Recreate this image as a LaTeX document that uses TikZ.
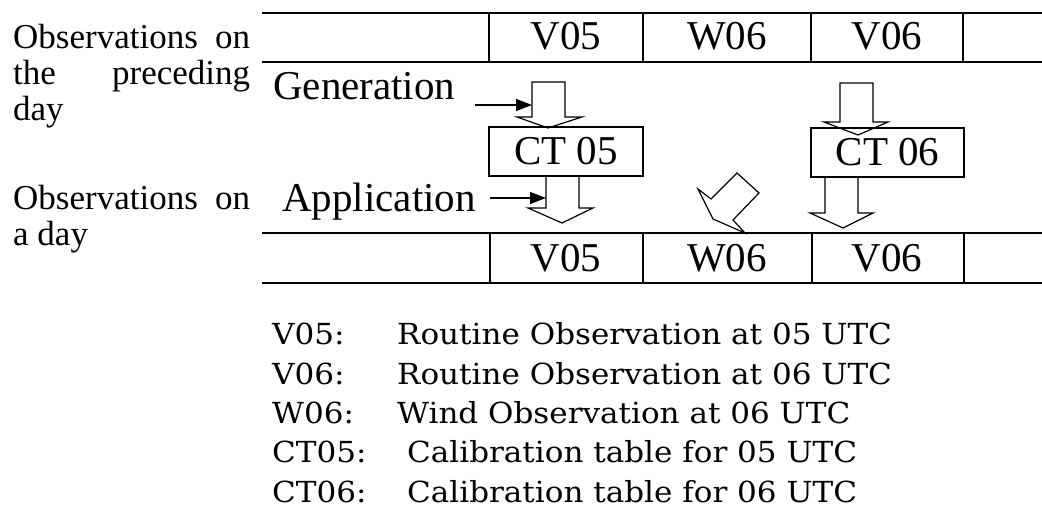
\documentclass[tikz,border=0pt]{standalone}
\usepackage{fontspec}
\setmainfont{Liberation Serif}
\newfontfamily\legendfont{DejaVu Serif}
\usetikzlibrary{arrows.meta}
\newcommand{\legwide}[1]{\scalebox{1.07}[1]{#1}}
\begin{document}
\begin{tikzpicture}[x=1pt,y=-1pt,line join=miter]
\tikzset{
 rowline/.style={line width=1.6pt},
 cellline/.style={line width=1.1pt},
 cell/.style={font=\fontsize{41}{41}\selectfont, inner sep=0pt, anchor=base},
 ctbox/.style={draw, line width=1.2pt, minimum height=49pt, inner sep=0pt, font=\fontsize{41}{41}\selectfont},
 blockarrow/.style={draw, line width=1.2pt},
 pointer/.style={line width=1.2pt, -{Triangle[length=16pt,width=12pt]}},
 sidelabel/.style={font=\fontsize{35}{36}\selectfont, anchor=base west, inner sep=0pt},
 steplabel/.style={font=\fontsize{41}{41}\selectfont, anchor=base west, inner sep=0pt},
 legendtext/.style={font=\legendfont\fontsize{29}{29}\selectfont, anchor=base west, inner sep=0pt},
}
\useasboundingbox (0,0) rectangle (1042,518);
% side labels
\node[sidelabel] (l1) at (13,49) {\makebox[237pt][s]{Observations on}};
\node[sidelabel] (l2) at (13,85) {\makebox[237pt][s]{the preceding}};
\node[sidelabel] (l3) at (13,121) {day};
\node[sidelabel] (l4) at (13,210) {\makebox[237pt][s]{Observations on}};
\node[sidelabel] (l5) at (13,246) {a day};
% top row
\draw[rowline] (262,13) -- (1042,13);
\draw[rowline] (262,62) -- (1042,62);
\foreach \x in {489,643,811,963} \draw[cellline] (\x,13) -- (\x,62);
\node[cell] (tv05) at (566,50) {V05};
\node[cell] (tw06) at (727,50) {W06};
\node[cell] (tv06) at (887,50) {V06};
% bottom row
\draw[rowline] (262,233) -- (1042,233);
\draw[rowline] (262,283) -- (1042,283);
\foreach \x in {490,643,812,964} \draw[cellline] (\x,233) -- (\x,283);
\node[cell] (bv05) at (566,272) {V05};
\node[cell] (bw06) at (727,272) {W06};
\node[cell] (bv06) at (887,272) {V06};
% calibration tables
\node[ctbox, minimum width=154pt] (ct05) at (566,151.5) {CT 05};
\node[ctbox, minimum width=153pt] (ct06) at (887.5,152.5) {CT 06};
% block arrows
\draw[blockarrow] (532,82) -- (565,82) -- (565,117) -- (582,117) -- (548,128) -- (517,117) -- (532,117) -- cycle;
\draw[blockarrow] (546,176) -- (579,176) -- (579,208) -- (593,208) -- (562,223) -- (528,208) -- (546,208) -- cycle;
\draw[blockarrow] (840,83) -- (873,83) -- (873,122) -- (888,122) -- (858,135) -- (824,122) -- (840,122) -- cycle;
\draw[blockarrow] (825,177) -- (858,177) -- (858,213) -- (873,213) -- (843,228) -- (810,213) -- (825,213) -- cycle;
\draw[blockarrow] (737,173) -- (759,193) -- (733,220) -- (745,233) -- (713,219) -- (698,189) -- (711,199) -- cycle;
% step labels and pointers
\node[steplabel] (gen) at (273,100) {Generation};
\node[steplabel] (app) at (282,212) {Application};
\coordinate (genfrom) at (475,105);
\coordinate (gento) at (532,105);
\coordinate (appfrom) at (490,198);
\coordinate (appto) at (546,198);
\draw[pointer] (genfrom) -- (gento);
\draw[pointer] (appfrom) -- (appto);
% legend
\node[legendtext] (k1) at (272,345) {\legwide{V05:}};
\node[legendtext] (k2) at (272,385) {\legwide{V06:}};
\node[legendtext] (k3) at (272,424) {\legwide{W06:}};
\node[legendtext] (k4) at (272,463) {\legwide{CT05:}};
\node[legendtext] (k5) at (272,503) {\legwide{CT06:}};
\node[legendtext] (d1) at (397,345) {\legwide{Routine Observation at 05 UTC}};
\node[legendtext] (d2) at (397,385) {\legwide{Routine Observation at 06 UTC}};
\node[legendtext] (d3) at (397,424) {\legwide{Wind Observation at 06 UTC}};
\node[legendtext] (d4) at (407,463) {\legwide{Calibration table for 05 UTC}};
\node[legendtext] (d5) at (407,503) {\legwide{Calibration table for 06 UTC}};
\end{tikzpicture}
\end{document}
